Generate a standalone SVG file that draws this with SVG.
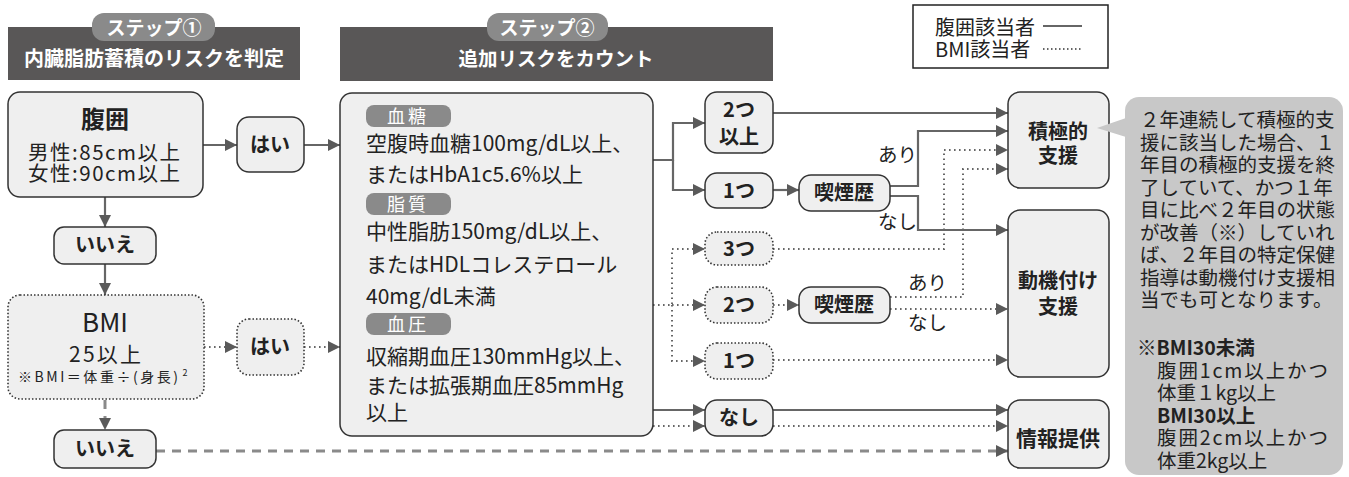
<svg xmlns="http://www.w3.org/2000/svg" width="1349" height="477" viewBox="0 0 1349 477">
<defs>
<style>
text{font-family:"Noto Sans CJK JP","Noto Sans",sans-serif;fill:#222}
.b{font-weight:bold}
.w{fill:#fff}
.box{fill:#efefef;stroke:#333;stroke-width:1.5}
.dbox{fill:#efefef;stroke:#333;stroke-width:1.6;stroke-dasharray:1.5 2}
.bar{fill:#595757}
.pill{fill:#8a8a8a}
.sl{fill:none;stroke:#666;stroke-width:2.2}
.dl{fill:none;stroke:#666;stroke-width:2;stroke-dasharray:1.6 3.4}
.dash{fill:none;stroke:#8a8a8a;stroke-width:3;stroke-dasharray:9 7}
.m{font-size:20px;text-anchor:middle}
.c{font-size:21px}
.n{font-size:19.5px}
</style>
<marker id="ah" viewBox="0 0 12 12" refX="12" refY="6" markerWidth="12" markerHeight="12" markerUnits="userSpaceOnUse" orient="auto"><path d="M0,0 L12,6 L0,12z" fill="#5a5a5a"/></marker>
</defs>

<g id="header1">
<rect class="bar" x="8" y="27" width="292" height="53"/>
<rect class="pill" x="92" y="13" width="123" height="28" rx="12"/>
<text class="b w" x="154" y="35" font-size="19" text-anchor="middle">ステップ①</text>
<text class="b w" x="154" y="66" font-size="20" text-anchor="middle">内臓脂肪蓄積のリスクを判定</text>
</g>
<g id="header2">
<rect class="bar" x="340" y="27" width="433" height="54"/>
<rect class="pill" x="487" y="13" width="121" height="28" rx="12"/>
<text class="b w" x="547" y="35" font-size="19" text-anchor="middle">ステップ②</text>
<text class="b w" x="556" y="66" font-size="19.5" text-anchor="middle">追加リスクをカウント</text>
</g>
<g id="legend">
<rect x="913" y="5" width="195" height="63" fill="#fff" stroke="#222" stroke-width="1.5"/>
<text x="935" y="35" font-size="20">腹囲該当者</text>
<text x="935" y="57" font-size="20">BMI該当者</text>
<line x1="1043" y1="26" x2="1082" y2="26" stroke="#333" stroke-width="1.5"/>
<line x1="1043" y1="49" x2="1082" y2="49" stroke="#333" stroke-width="1.5" stroke-dasharray="1.5 2.5"/>
</g>

<g id="connectors">
<path class="sl" d="M203,145 H237" marker-end="url(#ah)"/>
<path class="sl" d="M304,145 H340" marker-end="url(#ah)"/>
<path class="sl" d="M105,197 V227" marker-end="url(#ah)"/>
<path class="sl" d="M105,264 V295" marker-end="url(#ah)"/>
<path class="dl" d="M204,347 H237" marker-end="url(#ah)"/>
<path class="dl" d="M304,347 H340" marker-end="url(#ah)"/>
<path class="dash" d="M105,400 V430" marker-end="url(#ah)"/>
<path class="dash" d="M156,451 H1008" marker-end="url(#ah)"/>
<path class="sl" d="M653,160 H673 V123 H705" marker-end="url(#ah)"/>
<path class="sl" d="M673,160 V190 H705" marker-end="url(#ah)"/>
<path class="sl" d="M773,113 H1008" marker-end="url(#ah)"/>
<path class="sl" d="M773,190 H799" marker-end="url(#ah)"/>
<path class="sl" d="M890,186 H918 V131 H1008" marker-end="url(#ah)"/>
<path class="sl" d="M890,196 H918 V230 H1008" marker-end="url(#ah)"/>
<path class="dl" d="M653,305 H672 V249 H705" marker-end="url(#ah)"/>
<path class="dl" d="M672,305 H705" marker-end="url(#ah)"/>
<path class="dl" d="M672,305 V361 H705" marker-end="url(#ah)"/>
<path class="dl" d="M773,249 H944 V150 H1008" marker-end="url(#ah)"/>
<path class="dl" d="M773,305 H799" marker-end="url(#ah)"/>
<path class="dl" d="M890,297 H963 V169 H1008" marker-end="url(#ah)"/>
<path class="dl" d="M890,309 H1008" marker-end="url(#ah)"/>
<path class="dl" d="M773,360 H1008" marker-end="url(#ah)"/>
<path class="sl" d="M653,410 H705" marker-end="url(#ah)"/>
<path class="dl" d="M653,426 H705" marker-end="url(#ah)"/>
<path class="sl" d="M773,410 H1008" marker-end="url(#ah)"/>
<path class="dl" d="M773,426 H1008" marker-end="url(#ah)"/>
<text class="n" x="878" y="162">あり</text>
<text class="n" x="878" y="229">なし</text>
<text class="n" x="908" y="290">あり</text>
<text class="n" x="908" y="330">なし</text>
</g>

<g id="waist">
<rect class="box" x="8" y="92" width="195" height="105" rx="12"/>
<text class="b" x="105" y="128" font-size="24" text-anchor="middle">腹囲</text>
<text x="28" y="160" font-size="20.5" textLength="152" lengthAdjust="spacing">男性:85cm以上</text>
<text x="28" y="181" font-size="20.5" textLength="152" lengthAdjust="spacing">女性:90cm以上</text>
</g>
<g id="yes1">
<rect class="box" x="237" y="117" width="67" height="55" rx="12"/>
<text class="b m" x="270" y="152">はい</text>
</g>
<g id="no1">
<rect class="box" x="54" y="227" width="102" height="37" rx="10"/>
<text class="b m" x="105" y="252">いいえ</text>
</g>
<g id="bmi">
<rect class="dbox" x="8" y="295" width="196" height="104" rx="12"/>
<text x="105" y="332" font-size="26" text-anchor="middle">BMI</text>
<text x="69" y="362" font-size="21" textLength="72" lengthAdjust="spacing">25以上</text>
<text x="18" y="382" font-size="14"><tspan textLength="160" lengthAdjust="spacing">※BMI＝体重÷(身長)</tspan><tspan font-size="9" dx="2" dy="-6">2</tspan></text>
</g>
<g id="yes2">
<rect class="dbox" x="237" y="319" width="67" height="56" rx="12"/>
<text class="b m" x="270" y="354">はい</text>
</g>
<g id="no2">
<rect class="box" x="54" y="430" width="102" height="38" rx="10"/>
<text class="b m" x="105" y="456">いいえ</text>
</g>

<g id="risk">
<rect class="box" x="340" y="93" width="313" height="343" rx="12"/>
<rect class="pill" x="366" y="105" width="85" height="22" rx="8"/>
<text class="w" x="408" y="123" font-size="18" text-anchor="middle" letter-spacing="3">血糖</text>
<text class="c" x="366" y="151">空腹時血糖100mg/dL以上、</text>
<text class="c" x="366" y="182">またはHbA1c5.6%以上</text>
<rect class="pill" x="366" y="193" width="85" height="22" rx="8"/>
<text class="w" x="408" y="211" font-size="18" text-anchor="middle" letter-spacing="3">脂質</text>
<text class="c" x="366" y="239">中性脂肪150mg/dL以上、</text>
<text class="c" x="366" y="272">またはHDLコレステロール</text>
<text class="c" x="366" y="304">40mg/dL未満</text>
<rect class="pill" x="366" y="313" width="85" height="22" rx="8"/>
<text class="w" x="408" y="331" font-size="18" text-anchor="middle" letter-spacing="3">血圧</text>
<text class="c" x="366" y="364">収縮期血圧130mmHg以上、</text>
<text class="c" x="366" y="393">または拡張期血圧85mmHg</text>
<text class="c" x="366" y="420">以上</text>
</g>

<g id="two-plus">
<rect class="box" x="705" y="92" width="68" height="61" rx="12"/>
<text class="b m" x="739" y="117">2つ</text>
<text class="b m" x="739" y="144">以上</text>
</g>
<g id="one-a">
<rect class="box" x="705" y="173" width="68" height="35" rx="12"/>
<text class="b m" x="739" y="198">1つ</text>
</g>
<g id="smoke-a">
<rect class="box" x="799" y="175" width="91" height="36" rx="12"/>
<text class="b m" x="844" y="200">喫煙歴</text>
</g>
<g id="three">
<rect class="dbox" x="705" y="232" width="68" height="33" rx="12"/>
<text class="b m" x="739" y="256">3つ</text>
</g>
<g id="two-b">
<rect class="dbox" x="705" y="287" width="68" height="36" rx="12"/>
<text class="b m" x="739" y="312">2つ</text>
</g>
<g id="smoke-b">
<rect class="box" x="799" y="287" width="91" height="36" rx="12"/>
<text class="b m" x="844" y="312">喫煙歴</text>
</g>
<g id="one-b">
<rect class="dbox" x="705" y="343" width="68" height="36" rx="12"/>
<text class="b m" x="739" y="368">1つ</text>
</g>
<g id="none">
<rect class="box" x="705" y="400" width="68" height="36" rx="12"/>
<text class="b m" x="739" y="425">なし</text>
</g>

<g id="active">
<rect class="box" x="1008" y="92" width="101" height="96" rx="12"/>
<text class="b m" x="1058" y="139">積極的</text>
<text class="b m" x="1058" y="163">支援</text>
</g>
<g id="motivation">
<rect class="box" x="1008" y="210" width="101" height="167" rx="12"/>
<text class="b m" x="1058" y="288">動機付け</text>
<text class="b m" x="1058" y="314">支援</text>
</g>
<g id="info">
<rect class="box" x="1008" y="400" width="101" height="68" rx="12"/>
<text class="b" x="1058" y="446" font-size="21" text-anchor="middle">情報提供</text>
</g>

<g id="note">
<rect x="1125" y="97" width="218" height="378" rx="14" fill="#c8c8c8"/>
<path d="M1126,118 L1097,128 L1126,137z" fill="#c8c8c8"/>
<g font-size="19.5">
<text x="1140" y="127">２年連続して積極的支</text>
<text x="1140" y="149.5">援に該当した場合、１</text>
<text x="1140" y="172">年目の積極的支援を終</text>
<text x="1140" y="194.5">了していて、かつ１年</text>
<text x="1140" y="217">目に比べ２年目の状態</text>
<text x="1140" y="239.5">が改善（※）していれ</text>
<text x="1140" y="262">ば、２年目の特定保健</text>
<text x="1140" y="284.5">指導は動機付け支援相</text>
<text x="1140" y="307">当でも可となります。</text>
<text class="b" x="1137" y="355">※BMI30未満</text>
<text x="1157" y="377.5" textLength="171" lengthAdjust="spacing">腹囲1cm以上かつ</text>
<text x="1157" y="400">体重１kg以上</text>
<text class="b" x="1157" y="422.5">BMI30以上</text>
<text x="1157" y="445" textLength="171" lengthAdjust="spacing">腹囲2cm以上かつ</text>
<text x="1157" y="467.5">体重2kg以上</text>
</g>
</g>
</svg>
